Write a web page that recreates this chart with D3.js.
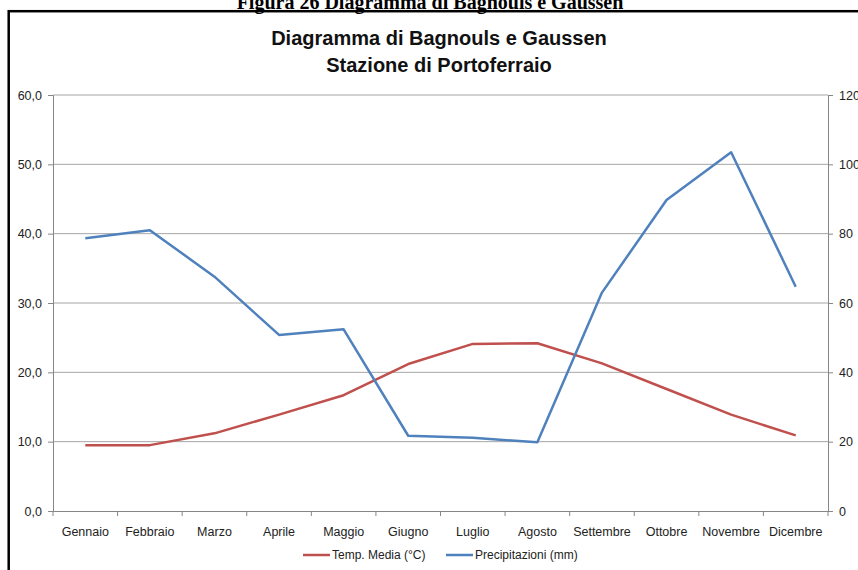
<!DOCTYPE html>
<html>
<head>
<meta charset="utf-8">
<script src="https://cdn.jsdelivr.net/npm/d3@7"></script>
<style>
  body { margin: 0; background: #fff; }
  svg text { font-family: "Liberation Sans Narrow", "Liberation Sans", sans-serif; }
</style>
</head>
<body>
<div id="chart"></div>
<script>
// Dati: stazione di Portoferraio
const mesi = ["Gennaio", "Febbraio", "Marzo", "Aprile", "Maggio", "Giugno",
              "Luglio", "Agosto", "Settembre", "Ottobre", "Novembre", "Dicembre"];
const tempMedia = [9.5, 9.5, 11.2, 13.9, 16.7, 21.2, 24.1, 24.2, 21.3, 17.6, 13.9, 10.9];
const precipitazioni = [78.7, 81.0, 67.6, 50.8, 52.4, 21.7, 21.1, 19.8, 63.0, 89.7, 103.5, 64.7];
const tickTemp = [0, 10, 20, 30, 40, 50, 60];
const tickPrec = [0, 20, 40, 60, 80, 100, 120];

const W = 858, H = 570;
const margin = { top: 95, right: 30, bottom: 59, left: 53 };
const width = W - margin.left - margin.right;
const height = H - margin.top - margin.bottom;

const svg = d3.select("#chart").append("svg")
    .attr("width", W)
    .attr("height", H);

// Didascalia (tagliata in alto)
svg.append("text")
    .attr("x", 430)
    .attr("y", 8.5)
    .attr("text-anchor", "middle")
    .style("font-family", "'Liberation Serif', serif")
    .style("font-weight", "bold")
    .style("font-size", "20px")
    .text("Figura 26 Diagramma di Bagnouls e Gaussen");

// Cornice nera
svg.append("rect")
    .attr("x", 8.7)
    .attr("y", 11.2)
    .attr("width", 870)
    .attr("height", 600)
    .attr("fill", "none")
    .attr("stroke", "#000")
    .attr("stroke-width", 2.5);

// Titolo
const titolo = ["Diagramma di Bagnouls e Gaussen", "Stazione di Portoferraio"];
titolo.forEach((t, i) => {
    svg.append("text")
        .attr("x", 439)
        .attr("y", 45 + i * 27)
        .attr("text-anchor", "middle")
        .style("font-weight", "bold")
        .style("font-size", "20px")
        .style("fill", "#111")
        .text(t);
});

const g = svg.append("g")
    .attr("transform", `translate(${margin.left},${margin.top})`);

// Scale
const x = d3.scaleBand().domain(mesi).range([0, width]);
const yT = d3.scaleLinear().domain([0, 60]).range([height, 0]);
const yP = d3.scaleLinear().domain([0, 120]).range([height, 0]);

// Griglia orizzontale
g.append("g")
    .selectAll("line")
    .data(tickTemp.filter(d => d > 0))
    .join("line")
    .attr("x1", 0)
    .attr("x2", width)
    .attr("y1", d => yT(d))
    .attr("y2", d => yT(d))
    .attr("stroke", "#a6a6a6")
    .attr("stroke-width", 1);

// Asse sinistro
const axL = g.append("g")
    .call(d3.axisLeft(yT).tickValues(tickTemp).tickSize(5).tickPadding(6)
        .tickFormat(d => d3.format(".1f")(d).replace(".", ",")));

// Asse destro
const axR = g.append("g")
    .attr("transform", `translate(${width},0)`)
    .call(d3.axisRight(yP).tickValues(tickPrec).tickSize(5).tickPadding(6));

// Asse x
const axX = g.append("g")
    .attr("transform", `translate(0,${height})`)
    .call(d3.axisBottom(x).tickSize(0).tickPadding(16));

// Tacche tra le categorie
g.append("g")
    .selectAll("line")
    .data(d3.range(mesi.length + 1))
    .join("line")
    .attr("x1", i => i * x.bandwidth())
    .attr("x2", i => i * x.bandwidth())
    .attr("y1", height)
    .attr("y2", height + 5)
    .attr("stroke", "#868686");

[axL, axR, axX].forEach(ax => {
    ax.select(".domain").attr("stroke", "#868686");
    ax.selectAll(".tick line").attr("stroke", "#868686");
    ax.selectAll("text")
        .style("font-size", "12.5px")
        .style("fill", "#222");
});

// Linee
const lineT = d3.line()
    .x((d, i) => x(mesi[i]) + x.bandwidth() / 2)
    .y(d => yT(d));
const lineP = d3.line()
    .x((d, i) => x(mesi[i]) + x.bandwidth() / 2)
    .y(d => yP(d));

g.append("path")
    .datum(tempMedia)
    .attr("d", lineT)
    .attr("fill", "none")
    .attr("stroke", "#C0504D")
    .attr("stroke-width", 2.5)
    .attr("stroke-linejoin", "round");

g.append("path")
    .datum(precipitazioni)
    .attr("d", lineP)
    .attr("fill", "none")
    .attr("stroke", "#4F81BD")
    .attr("stroke-width", 2.5)
    .attr("stroke-linejoin", "round");

// Legenda
const legenda = [
    { nome: "Temp. Media (°C)", colore: "#C0504D", x: 303 },
    { nome: "Precipitazioni (mm)", colore: "#4F81BD", x: 446 }
];
legenda.forEach(l => {
    svg.append("line")
        .attr("x1", l.x)
        .attr("x2", l.x + 27)
        .attr("y1", 555)
        .attr("y2", 555)
        .attr("stroke", l.colore)
        .attr("stroke-width", 2.5);
    svg.append("text")
        .attr("x", l.x + 29)
        .attr("y", 555)
        .attr("dy", "0.35em")
        .style("font-size", "12px")
        .style("fill", "#222")
        .text(l.nome);
});
</script>
</body>
</html>
